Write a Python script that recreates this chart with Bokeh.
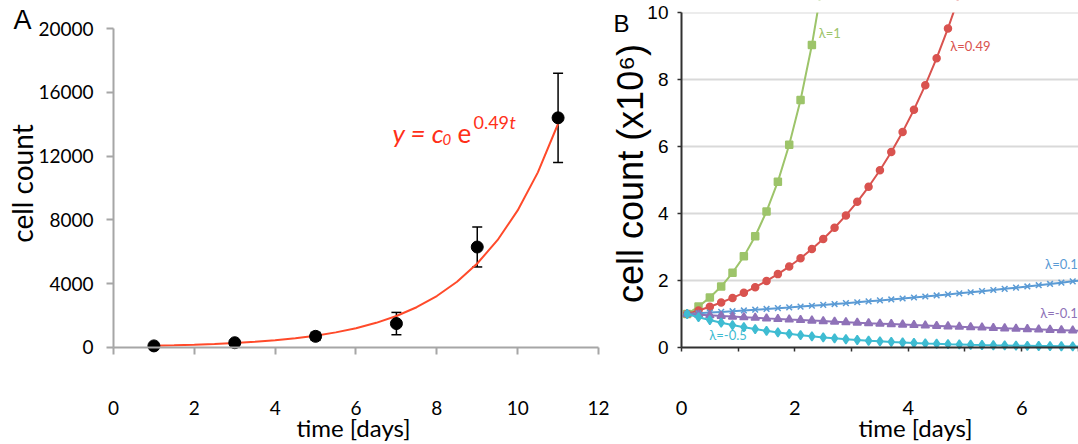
import math
from bokeh.plotting import figure
from bokeh.layouts import row
from bokeh.models import ColumnDataSource, FixedTicker, Label, Whisker, TeeHead
from bokeh.embed import file_html
from bokeh.resources import INLINE

# ---------------- Panel A data ----------------
days_A = [1, 3, 5, 7, 9, 11]
count_A = [100, 300, 700, 1500, 6300, 14400]
err_A = [60, 150, 250, 700, 1250, 2800]
fit_t = [1, 1.5, 2, 2.5, 3, 3.5, 4, 4.5, 5, 5.5, 6, 6.5, 7, 7.5, 8, 8.5, 9, 9.5, 10, 10.5, 11]
fit_y = [104, 134, 171, 218, 278, 356, 454, 581, 742, 948, 1211, 1547, 1976, 2525,
         3226, 4121, 5266, 6728, 8594, 10981, 14029]
xticks_A = [0, 2, 4, 6, 8, 10, 12]
yticks_A = [0, 4000, 8000, 12000, 16000, 20000]

# ---------------- Panel B data ----------------
t_B = [0.1, 0.3, 0.5, 0.7, 0.9, 1.1, 1.3, 1.5, 1.7, 1.9, 2.1, 2.3, 2.5, 2.7, 2.9, 3.1,
       3.3, 3.5, 3.7, 3.9, 4.1, 4.3, 4.5, 4.7, 4.9, 5.1, 5.3, 5.5, 5.7, 5.9, 6.1, 6.3,
       6.5, 6.7, 6.9, 7.1]
lam_1 = [1.00, 1.22, 1.49, 1.82, 2.23, 2.72, 3.32, 4.06, 4.95, 6.05, 7.39, 9.03, 11.02]
lam_049 = [1.000, 1.103, 1.217, 1.342, 1.480, 1.632, 1.800, 1.986, 2.190, 2.416, 2.664,
           2.939, 3.241, 3.575, 3.943, 4.349, 4.797, 5.291, 5.836, 6.436, 7.099, 7.830,
           8.636, 9.525, 10.506]
lam_01 = [1.000, 1.020, 1.041, 1.062, 1.083, 1.105, 1.127, 1.150, 1.174, 1.197, 1.221,
          1.246, 1.271, 1.297, 1.323, 1.350, 1.377, 1.405, 1.433, 1.462, 1.492, 1.522,
          1.553, 1.584, 1.616, 1.649, 1.682, 1.716, 1.751, 1.786, 1.822, 1.859, 1.896,
          1.935, 1.974, 2.014]
lam_m01 = [1.000, 0.980, 0.961, 0.942, 0.923, 0.905, 0.887, 0.869, 0.852, 0.835, 0.819,
           0.803, 0.787, 0.771, 0.756, 0.741, 0.726, 0.712, 0.698, 0.684, 0.670, 0.657,
           0.644, 0.631, 0.619, 0.607, 0.595, 0.583, 0.571, 0.560, 0.549, 0.538, 0.527,
           0.517, 0.507, 0.497]
lam_m05 = [1.000, 0.905, 0.819, 0.741, 0.670, 0.607, 0.549, 0.497, 0.449, 0.407, 0.368,
           0.333, 0.301, 0.273, 0.247, 0.223, 0.202, 0.183, 0.165, 0.150, 0.135, 0.122,
           0.111, 0.100, 0.091, 0.082, 0.074, 0.067, 0.061, 0.055, 0.050, 0.045, 0.041,
           0.037, 0.033, 0.030]
series_names = ["λ=1", "λ=0.49", "λ=0.1", "λ=-0.1", "λ=-0.5"]
xticks_B = [0, 1, 2, 3, 4, 5, 6, 7]
yticks_B = [0, 2, 4, 6, 8, 10]

CAL = "Lato"
ARIAL = "Liberation Sans"
H = 444


def style_axis(ax, color, tick_w, tick_out, font, size):
    ax.axis_line_color = color
    ax.axis_line_width = 2
    ax.major_tick_line_color = color
    ax.major_tick_line_width = tick_w
    ax.major_tick_in = 0
    ax.major_tick_out = tick_out
    ax.minor_tick_line_color = None
    ax.major_label_text_font = font
    ax.major_label_text_font_size = size
    ax.major_label_text_color = "black"
    ax.fixed_location = 0


# ================= Panel A =================
pA = figure(width=610, height=H, x_range=(-2.796, 12.297), y_range=(-6082, 21757),
            title=None, output_backend="svg", toolbar_location=None,
            min_border_left=0, min_border_right=0, min_border_top=0, min_border_bottom=0)
pA.outline_line_color = None
pA.grid.grid_line_color = None
style_axis(pA.xaxis[0], "#a6a6a6", 2, 7, CAL, "19px")
style_axis(pA.yaxis[0], "#a6a6a6", 2, 7, CAL, "19px")
pA.xaxis.ticker = FixedTicker(ticks=xticks_A)
pA.yaxis.ticker = FixedTicker(ticks=yticks_A)
pA.xaxis.bounds = (xticks_A[0], xticks_A[-1])
pA.yaxis.bounds = (yticks_A[0], yticks_A[-1])
pA.yaxis.major_label_standoff = 13
pA.xaxis.major_label_standoff = 47

pA.line(fit_t, fit_y, line_color="#ff4a2a", line_width=2)
srcA = ColumnDataSource(dict(t=days_A, c=count_A,
                             up=[c + e for c, e in zip(count_A, err_A)],
                             lo=[c - e for c, e in zip(count_A, err_A)]))
wh = Whisker(base="t", upper="up", lower="lo", source=srcA, line_color="black", line_width=1.5,
             upper_head=TeeHead(size=10, line_color="black", line_width=1.5),
             lower_head=TeeHead(size=10, line_color="black", line_width=1.5))
pA.add_layout(wh)
pA.scatter("t", "c", source=srcA, size=12, color="black")

pA.add_layout(Label(x=-2.276, y=10283, text="cell count", angle=math.pi / 2,
                    text_font=CAL, text_font_size="28px", text_color="black",
                    text_align="center", text_baseline="middle"))
pA.add_layout(Label(x=5.938, y=-5016, text="time [days]", text_font=CAL,
                    text_font_size="24px", text_color="black",
                    text_align="center", text_baseline="middle"))
pA.add_layout(Label(x=-2.474, y=20503, text="A", text_font=ARIAL, text_font_size="27px",
                    text_color="black", text_align="left", text_baseline="alphabetic"))
RED = "#ff3018"
fx, fy = 6.903, 13418
pA.add_layout(Label(x=fx, y=fy, text="y = c", text_font=CAL, text_font_size="26px",
                    text_font_style="italic", text_color=RED, text_baseline="alphabetic"))
pA.add_layout(Label(x=fx, y=fy, x_offset=50, y_offset=-6, text="0", text_font=CAL,
                    text_font_size="15px", text_font_style="italic", text_color=RED,
                    text_baseline="alphabetic"))
pA.add_layout(Label(x=fx, y=fy, x_offset=65, text="e", text_font=CAL, text_font_size="26px",
                    text_color=RED, text_baseline="alphabetic"))
pA.add_layout(Label(x=fx, y=fy, x_offset=81, y_offset=11, text="0.49", text_font=CAL,
                    text_font_size="18px", text_color=RED, text_baseline="alphabetic"))
pA.add_layout(Label(x=fx, y=fy, x_offset=117, y_offset=11, text="t", text_font=CAL,
                    text_font_size="18px", text_font_style="italic", text_color=RED,
                    text_baseline="alphabetic"))

# ================= Panel B =================
yB_top = 10.358
pB = figure(width=468, height=H, x_range=(-1.252, 7.002), y_range=(-2.896, yB_top),
            title=None, output_backend="svg", toolbar_location=None,
            min_border_left=0, min_border_right=0, min_border_top=0, min_border_bottom=0)
pB.outline_line_color = None
pB.grid.grid_line_color = None
style_axis(pB.xaxis[0], "#303030", 1.5, 4, CAL, "20px")
style_axis(pB.yaxis[0], "#303030", 1.5, 4, ARIAL, "19px")
pB.xaxis.ticker = FixedTicker(ticks=xticks_B)
pB.xaxis.major_label_overrides = {1: "", 3: "", 5: "", 7: ""}
pB.yaxis.ticker = FixedTicker(ticks=yticks_B)
pB.xaxis.bounds = (xticks_B[0], xticks_B[-1])
pB.yaxis.bounds = (yticks_B[0], yticks_B[-1])
pB.xaxis.major_label_standoff = 50
pB.yaxis.major_label_standoff = 9

colors = ["#9dc46a", "#d9534f", "#5b9bd5", "#8f72b8", "#3fbcd2"]
markers = ["square", "circle", "x", "triangle", "diamond"]
sizes = [7, 7, 8, 8, 9]
ys = [lam_1, lam_049, lam_01, lam_m01, lam_m05]
for yv, col, mk, sz in zip(ys, colors, markers, sizes):
    tt = t_B[:len(yv)]
    pB.line(tt, yv, line_color=col, line_width=2)
    pB.scatter(tt, yv, marker=mk, size=sz, color=col, line_width=1.5)

# white mask above the top of the value axis (the original plot area ends at 10)
pB.quad(left=[pB.x_range.start], right=[pB.x_range.end], bottom=[yticks_B[-1]],
        top=[yB_top], fill_color="white", line_color=None)

# horizontal gridlines, spanning the data area only
grid_y = yticks_B[1:]
pB.segment(x0=[xticks_B[0]] * len(grid_y), x1=[xticks_B[-1]] * len(grid_y),
           y0=grid_y, y1=grid_y, line_color="#d9d9d9", line_width=2, level="underlay")

lab_pos = [(2.42, 9.4, "left"), (4.74, 9.0, "left"), (6.99, 2.5, "right"),
           (6.99, 1.04, "right"), (0.49, 0.36, "left")]
for name, (lx, ly, al), col in zip(series_names, lab_pos, colors):
    pB.add_layout(Label(x=lx, y=ly, text=name, text_font=CAL, text_font_size="13px",
                        text_color=col, text_align=al, text_baseline="middle"))

pB.add_layout(Label(x=-0.90, y=5.194, text="cell count (x10⁶)", angle=math.pi / 2,
                    text_font=ARIAL, text_font_size="36px", text_color="black",
                    text_align="center", text_baseline="middle"))
pB.add_layout(Label(x=4.127, y=-2.388, text="time [days]", text_font=CAL,
                    text_font_size="24px", text_color="black",
                    text_align="center", text_baseline="middle"))
pB.add_layout(Label(x=-1.199, y=9.67, text="B", text_font=ARIAL, text_font_size="24px",
                    text_color="black", text_align="left", text_baseline="alphabetic"))

layout = row(pA, pB)
open("out.html", "w").write(file_html(layout, INLINE))
